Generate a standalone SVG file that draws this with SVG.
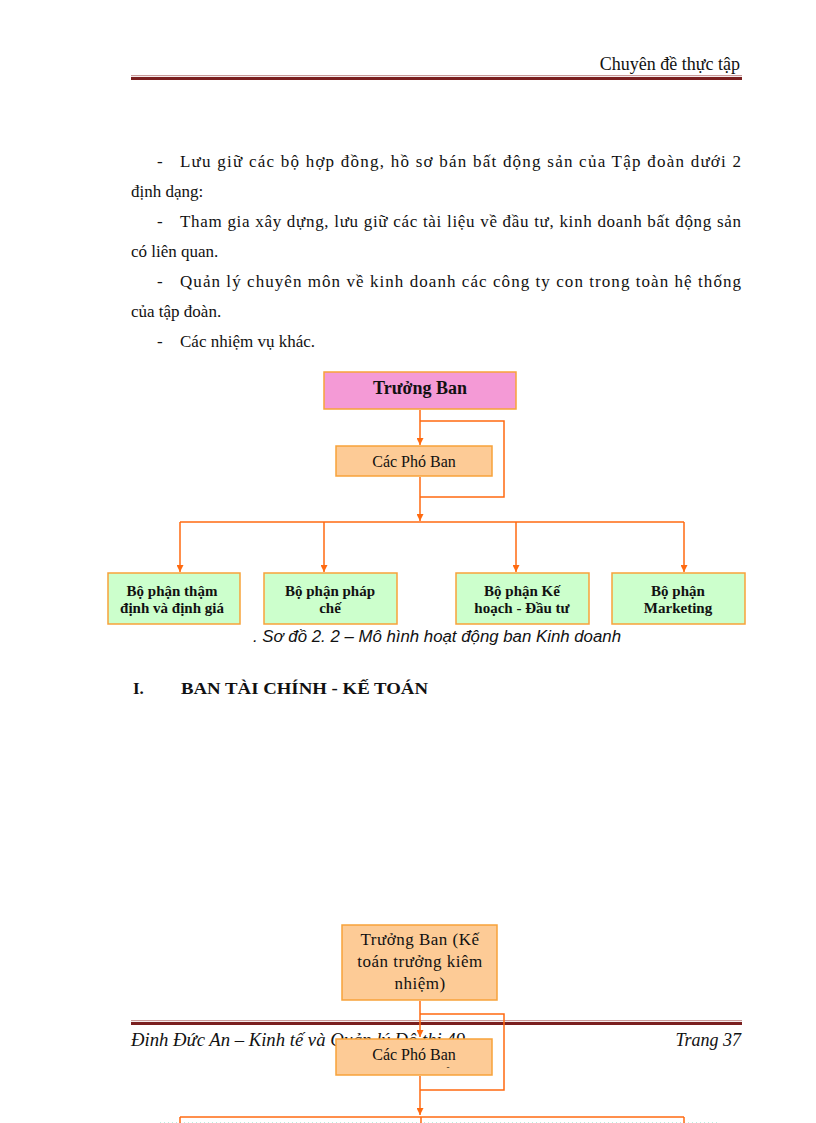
<svg xmlns="http://www.w3.org/2000/svg" width="816" height="1123" viewBox="0 0 816 1123">
<defs>
<style>
.body{font-family:"Liberation Serif","Times New Roman",serif;font-size:17px;fill:#111}
.hdr{font-family:"Liberation Serif","Times New Roman",serif;font-size:18px;fill:#111}
.ft{font-family:"Liberation Serif","Times New Roman",serif;font-size:18px;font-style:italic;fill:#111}
.cap{font-family:"Liberation Sans",Arial,sans-serif;font-size:16px;font-style:italic;fill:#111}
.h1{font-family:"Liberation Serif","Times New Roman",serif;font-size:17px;font-weight:bold;fill:#111}
.bx{font-family:"Liberation Serif","Times New Roman",serif;fill:#111;text-anchor:middle}
.b15{font-size:15px;font-weight:bold}
.b18{font-size:18px;font-weight:bold}
.r16{font-size:16px}
.r17{font-size:17px;letter-spacing:0.5px}
.pink{fill:#F49AD6;stroke:#F7A23A;stroke-width:1.5}
.orng{fill:#FDCB96;stroke:#F7A23A;stroke-width:1.5}
.grn{fill:#CCFFCC;stroke:#F7A23A;stroke-width:1.5}
.ln{fill:none;stroke:#FF6A10;stroke-width:1.5}
</style>
<marker id="ar" viewBox="0 0 10 10" refX="10" refY="5" markerWidth="7" markerHeight="7" markerUnits="userSpaceOnUse" orient="auto">
<path d="M0,0 L10,5 L0,10 z" fill="#FF6A10"/>
</marker>
</defs>
<rect width="816" height="1123" fill="#fff"/>

<!-- header -->
<text class="hdr" x="740" y="70" text-anchor="end">Chuyên đề thực tập</text>
<rect x="131" y="75" width="611" height="1.2" fill="#c99a9a"/>
<rect x="131" y="77" width="611" height="3" fill="#7a1f1f"/>

<!-- body text -->
<text class="body" x="157" y="167">-</text>
<text class="body" x="180" y="167" textLength="561" lengthAdjust="spacing">Lưu giữ các bộ hợp đồng, hồ sơ bán bất động sản của Tập đoàn dưới 2</text>
<text class="body" x="131" y="197">định dạng:</text>
<text class="body" x="157" y="227">-</text>
<text class="body" x="180" y="227" textLength="561" lengthAdjust="spacing">Tham gia xây dựng, lưu giữ các tài liệu về đầu tư, kinh doanh bất động sản</text>
<text class="body" x="131" y="257">có liên quan.</text>
<text class="body" x="157" y="287">-</text>
<text class="body" x="180" y="287" textLength="561" lengthAdjust="spacing">Quản lý chuyên môn về kinh doanh các công ty con trong toàn hệ thống</text>
<text class="body" x="131" y="317">của tập đoàn.</text>
<text class="body" x="157" y="347">-</text>
<text class="body" x="180" y="347">Các nhiệm vụ khác.</text>

<!-- chart 1 connectors -->
<g id="connectors1">
<path class="ln" d="M420,410 V445" marker-end="url(#ar)"/>
<path class="ln" d="M420,421 H504 V497 H420"/>
<path class="ln" d="M420,477 V521" marker-end="url(#ar)"/>
<path class="ln" d="M180,522 H684"/>
<path class="ln" d="M180,522 V572" marker-end="url(#ar)"/>
<path class="ln" d="M324,522 V572" marker-end="url(#ar)"/>
<path class="ln" d="M516,522 V572" marker-end="url(#ar)"/>
<path class="ln" d="M684,522 V572" marker-end="url(#ar)"/>
</g>

<g id="truong-ban-1">
<rect class="pink" x="324" y="372" width="192" height="37"/>
<text class="bx b18" x="420" y="394">Trưởng Ban</text>
</g>
<g id="pho-ban-1">
<rect class="orng" x="336" y="446" width="156" height="30"/>
<text class="bx r16" x="414" y="467">Các Phó Ban</text>
</g>
<g id="bp-thamdinh">
<rect class="grn" x="108" y="573" width="132" height="51"/>
<text class="bx b15" x="172" y="596">Bộ phận  thậm</text>
<text class="bx b15" x="172" y="613">định  và định  giá</text>
</g>
<g id="bp-phapche">
<rect class="grn" x="264" y="573" width="133" height="51"/>
<text class="bx b15" x="330" y="596">Bộ phận  pháp</text>
<text class="bx b15" x="330" y="613">chế</text>
</g>
<g id="bp-kehoach">
<rect class="grn" x="456" y="573" width="133" height="51"/>
<text class="bx b15" x="522" y="596">Bộ phận  Kế</text>
<text class="bx b15" x="522" y="613">hoạch - Đầu tư</text>
</g>
<g id="bp-marketing">
<rect class="grn" x="612" y="573" width="133" height="51"/>
<text class="bx b15" x="678" y="596">Bộ phận</text>
<text class="bx b15" x="678" y="613">Marketing</text>
</g>

<text class="cap" x="253" y="642" textLength="368" lengthAdjust="spacingAndGlyphs">. Sơ đồ 2. 2 – Mô hình hoạt động ban Kinh doanh</text>

<!-- heading -->
<text class="h1" x="133" y="694">I.</text>
<text class="h1" x="181" y="694" textLength="247" lengthAdjust="spacingAndGlyphs">BAN TÀI CHÍNH - KẾ TOÁN</text>

<!-- footer -->
<rect x="131" y="1020" width="611" height="1.2" fill="#c99a9a"/>
<rect x="131" y="1022" width="611" height="3" fill="#7a1f1f"/>
<text class="ft" x="131" y="1046" textLength="334" lengthAdjust="spacingAndGlyphs">Đinh Đức An – Kinh tế và Quản lý Đô thị 49</text>
<text class="ft" x="741" y="1046" text-anchor="end">Trang  37</text>

<!-- chart 2 -->
<line x1="160" y1="1122.5" x2="720" y2="1122.5" stroke="#bdeede" stroke-width="1" stroke-dasharray="1 3"/>
<g id="connectors2">
<path class="ln" d="M420,1001 V1037" marker-end="url(#ar)"/>
<path class="ln" d="M420,1014 H504 V1090 H420"/>
<path class="ln" d="M420,1076 V1115" marker-end="url(#ar)"/>
<path class="ln" d="M180,1117 H684"/>
<path class="ln" d="M180,1117 V1123"/>
<path class="ln" d="M421,1117 V1123"/>
<path class="ln" d="M684,1117 V1123"/>
</g>
<g id="truong-ban-2">
<rect class="orng" x="342" y="925" width="155" height="75"/>
<text class="bx r17" x="420" y="945">Trưởng Ban (Kế</text>
<text class="bx r17" x="420" y="967">toán trưởng kiêm</text>
<text class="bx r17" x="420" y="989">nhiệm)</text>
</g>
<g id="pho-ban-2">
<rect class="orng" x="336" y="1039" width="156" height="36"/>
<text class="bx r16" x="414" y="1060">Các Phó Ban</text>
<text class="bx" x="448" y="1070" font-size="9">-</text>
</g>
</svg>
